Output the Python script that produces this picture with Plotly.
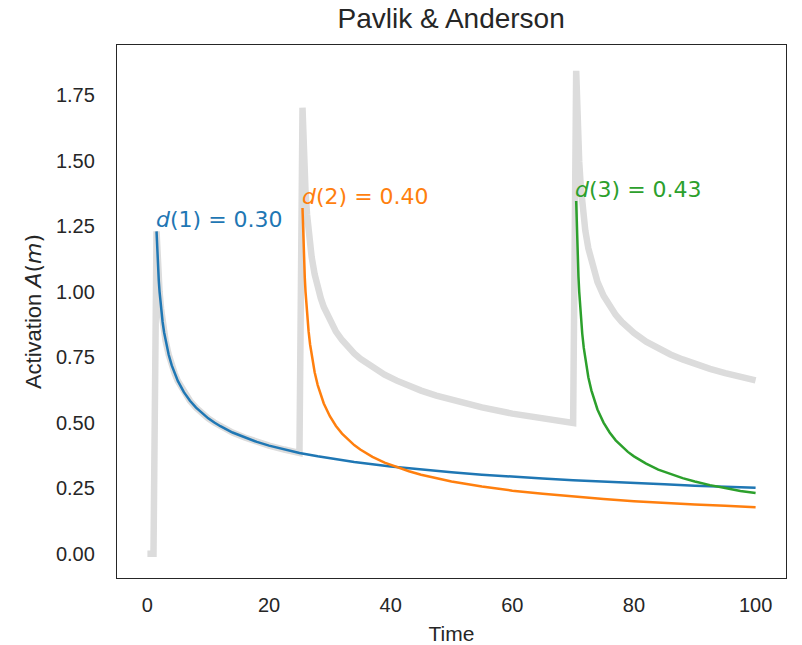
import plotly.graph_objects as go

# ---- data ----
blue_t = [1.5, 1.625, 1.75, 1.875, 2, 2.25, 2.5, 2.75, 3, 3.5, 4, 4.5, 5, 6, 7, 8, 9, 10, 11, 12,
          14, 16, 18, 20, 22.5, 25,
          28, 30, 34, 40, 45, 50, 55, 60, 65, 70, 75, 80, 85, 90, 95, 100]
blue_y = [1.231, 1.151, 1.090, 1.041, 1.000, 0.935, 0.885, 0.845, 0.812, 0.760, 0.719, 0.687, 0.660,
          0.617, 0.584, 0.558, 0.536, 0.517, 0.501, 0.487, 0.463, 0.444, 0.427, 0.413, 0.398, 0.385,
          0.372, 0.364, 0.350, 0.333, 0.321, 0.311, 0.302, 0.294, 0.287, 0.281, 0.275, 0.270, 0.265,
          0.260, 0.256, 0.252]

orange_t = [25.5, 25.625, 25.75, 25.875, 26, 26.25, 26.5, 26.75, 27, 27.5, 28, 28.5, 29, 30, 31, 32,
            33, 34, 35, 37, 39, 41, 43, 45, 47.5, 50, 55, 60, 65, 70,
            75, 80, 85, 90, 95, 100]
orange_y = [1.320, 1.207, 1.122, 1.055, 1.000, 0.915, 0.850, 0.799, 0.758, 0.693, 0.644, 0.606, 0.574,
            0.525, 0.488, 0.459, 0.435, 0.415, 0.398, 0.370, 0.348, 0.330, 0.315, 0.302, 0.288, 0.276,
            0.257, 0.241, 0.229, 0.218, 0.209, 0.201, 0.194, 0.188, 0.183, 0.178]

green_t = [70.5, 70.625, 70.75, 70.875, 71, 71.25, 71.5, 71.75, 72, 72.5, 73, 73.5, 74, 75, 76, 77,
           78, 79, 80, 82, 84, 86, 88, 90, 92.5, 95, 97.5, 100]
green_y = [1.347, 1.224, 1.132, 1.059, 1.000, 0.909, 0.840, 0.786, 0.742, 0.674, 0.624, 0.584, 0.551,
           0.501, 0.463, 0.433, 0.409, 0.389, 0.372, 0.344, 0.321, 0.304, 0.289, 0.276, 0.262, 0.251,
           0.240, 0.232]

# total activation (thick gray line): before practice 1, then the three decays summed
total_t = [0, 1] + blue_t[:26] + orange_t[:30] + green_t
total_y = [0.0, 0.0,
           1.231, 1.151, 1.090, 1.041, 1.000, 0.935, 0.885, 0.845, 0.812, 0.760, 0.719, 0.687, 0.660,
           0.617, 0.584, 0.558, 0.536, 0.517, 0.501, 0.487, 0.463, 0.444, 0.427, 0.413, 0.398, 0.385,
           1.703, 1.590, 1.504, 1.437, 1.381, 1.295, 1.228, 1.176, 1.134, 1.067, 1.016, 0.976, 0.942,
           0.889, 0.848, 0.816, 0.789, 0.765, 0.745, 0.711, 0.684, 0.661, 0.641, 0.623, 0.604, 0.587,
           0.559, 0.535, 0.516, 0.499,
           1.844, 1.721, 1.629, 1.555, 1.496, 1.404, 1.335, 1.280, 1.234, 1.166, 1.114, 1.073, 1.038,
           0.985, 0.945, 0.912, 0.885, 0.863, 0.843, 0.810, 0.783, 0.761, 0.742, 0.724, 0.706, 0.690,
           0.674, 0.662]

labels = ["<i>d</i>(1) = 0.30", "<i>d</i>(2) = 0.40", "<i>d</i>(3) = 0.43"]
colors = ["#1f77b4", "#ff7f0e", "#2ca02c"]

x_ticks = [0, 20, 40, 60, 80, 100]
y_ticks = [0, 0.25, 0.5, 0.75, 1.0, 1.25, 1.5, 1.75]

fig = go.Figure()
fig.add_trace(go.Scatter(x=total_t, y=total_y, mode="lines",
                         line=dict(color="#dcdcdc", width=6.5), showlegend=False))
series = [(blue_t, blue_y), (orange_t, orange_y), (green_t, green_y)]
for (tt, yy), c, lab in zip(series, colors, labels):
    fig.add_trace(go.Scatter(x=tt, y=yy, mode="lines",
                             line=dict(color=c, width=2.5), showlegend=False))
    fig.add_annotation(x=tt[0], y=yy[0], text=lab, showarrow=False,
                       xanchor="left", yanchor="bottom", yshift=-3, xshift=-3,
                       font=dict(family="DejaVu Sans", size=22, color=c))

axis_common = dict(showgrid=False, zeroline=False, showline=True, mirror=True,
                   linecolor="#262626", linewidth=1.3, ticks="", automargin=False,
                   tickfont=dict(family="Liberation Sans, Arial", size=20, color="#262626"))

fig.update_layout(
    width=802, height=645,
    margin=dict(l=117, r=16, t=45, b=67),
    paper_bgcolor="white", plot_bgcolor="white",
    title=dict(text="Pavlik &amp; Anderson", x=0.5625, xanchor="center", y=0.972, yanchor="middle",
               font=dict(family="Liberation Sans, Arial", size=28, color="#262626")),
    xaxis=dict(range=[-5, 105], tickvals=x_ticks, ticklabelstandoff=9,
               title=dict(text="Time", font=dict(family="Liberation Sans, Arial", size=21, color="#262626"),
                          standoff=12),
               **axis_common),
    yaxis=dict(range=[-0.0925, 1.9425], tickvals=y_ticks, tickformat=".2f", ticklabelstandoff=17,
               title=dict(text="Activation <span style='font-family:DejaVu Sans'><i>A</i>(<i>m</i>)</span>",
                          font=dict(family="Liberation Sans, Arial", size=22, color="#262626"),
                          standoff=8),
               **axis_common),
)

fig.write_html("out.html")
